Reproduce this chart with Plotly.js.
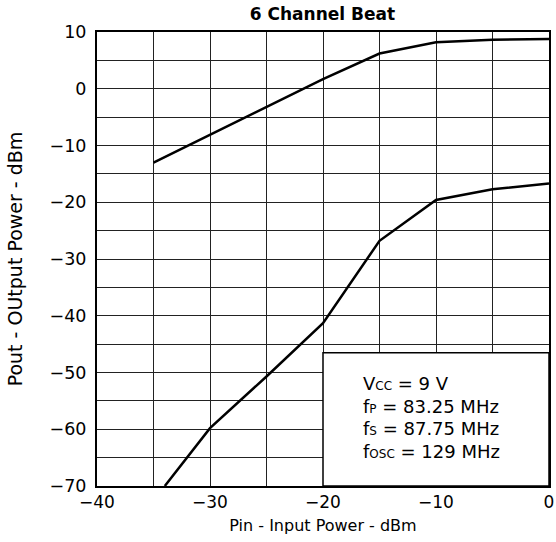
<!DOCTYPE html>
<html>
<head>
<meta charset="utf-8">
<script src="https://cdn.plot.ly/plotly-3.0.1.min.js"></script>
<style>html,body{margin:0;padding:0;background:#fff;}#chart{width:556px;height:542px;}</style>
</head>
<body>
<div id="chart"></div>
<script>
// Data
const pinUpper = [-35, -30, -25, -20, -15, -10, -5, 0];
const poutUpper = [-13, -8.1, -3.2, 1.7, 6.2, 8.2, 8.65, 8.75];
const pinLower = [-34, -30, -25, -20, -15, -10, -5, 0];
const poutLower = [-70, -59.8, -50.7, -41.3, -26.8, -19.6, -17.7, -16.7];
const xTickVals = [-40, -30, -20, -10, 0];
const xTickText = ['\u221240', '\u221230', '\u221220', '\u221210', '0'];
const yTickVals = [10, 0, -10, -20, -30, -40, -50, -60, -70];
const yTickText = ['10', '0', '\u221210', '\u221220', '\u221230', '\u221240', '\u221250', '\u221260', '\u221270'];
const conditionLines = [
  'V<span style="font-size:12px">CC</span> = 9 V',
  'f<span style="font-size:12px">P</span> = 83.25 MHz',
  'f<span style="font-size:12px">S</span> = 87.75 MHz',
  'f<span style="font-size:12px">OSC</span> = 129 MHz'
];
const conditionY = [-51.85, -56.0, -59.8, -63.95];
const conditionX = -16.6;
const boxX = [-20, 0];
const boxY = [-70, -46.5];

const FONT = 'DejaVu Sans, Arial, sans-serif';
const lineStyle = {color: '#000', width: 2.5};

const traces = [
  {x: pinUpper, y: poutUpper, type: 'scatter', mode: 'lines', line: lineStyle, hoverinfo: 'skip', cliponaxis: true},
  {x: pinLower, y: poutLower, type: 'scatter', mode: 'lines', line: lineStyle, hoverinfo: 'skip', cliponaxis: true}
];

const annotations = conditionLines.map((t, i) => ({
  x: conditionX, y: conditionY[i], xref: 'x', yref: 'y', text: t, showarrow: false,
  xanchor: 'left', yanchor: 'middle', align: 'left',
  font: {family: FONT, size: 18, color: '#000'}
}));

const layout = {
  width: 556, height: 542,
  margin: {l: 97, r: 7, t: 32, b: 56},
  paper_bgcolor: '#fff', plot_bgcolor: '#fff',
  showlegend: false,
  title: {text: '<b>6 Channel Beat</b>', font: {family: FONT, size: 17, color: '#000'},
          x: 0.58, xanchor: 'center', y: 0.975, yanchor: 'middle'},
  xaxis: {
    range: [-40, 0], tickmode: 'array', tickvals: xTickVals, ticktext: xTickText,
    showgrid: true, gridcolor: '#222', gridwidth: 1,
    minor: {dtick: 5, showgrid: true, gridcolor: '#222', gridwidth: 1},
    showline: true, mirror: true, linecolor: '#000', linewidth: 2,
    zeroline: false, ticks: '',
    tickfont: {family: FONT, size: 17, color: '#000'},
    title: {text: 'Pin - Input Power - dBm', font: {family: FONT, size: 16, color: '#000'}, standoff: 8}
  },
  yaxis: {
    range: [-70, 10], tickmode: 'array', tickvals: yTickVals, ticktext: yTickText,
    showgrid: true, gridcolor: '#222', gridwidth: 1,
    minor: {dtick: 5, showgrid: true, gridcolor: '#222', gridwidth: 1},
    showline: true, mirror: true, linecolor: '#000', linewidth: 2,
    zeroline: false, ticks: '', ticklabelstandoff: 5,
    tickfont: {family: FONT, size: 17.5, color: '#000'},
    title: {text: 'Pout - OUtput Power - dBm', font: {family: FONT, size: 19, color: '#000'}, standoff: 22}
  },
  shapes: [{
    type: 'rect', xref: 'x', yref: 'y', x0: boxX[0], x1: boxX[1], y0: boxY[0], y1: boxY[1],
    fillcolor: '#fff', line: {color: '#000', width: 1.5}, layer: 'above'
  }],
  annotations: annotations
};

Plotly.newPlot('chart', traces, layout, {displayModeBar: false, staticPlot: true});
</script>
</body>
</html>
